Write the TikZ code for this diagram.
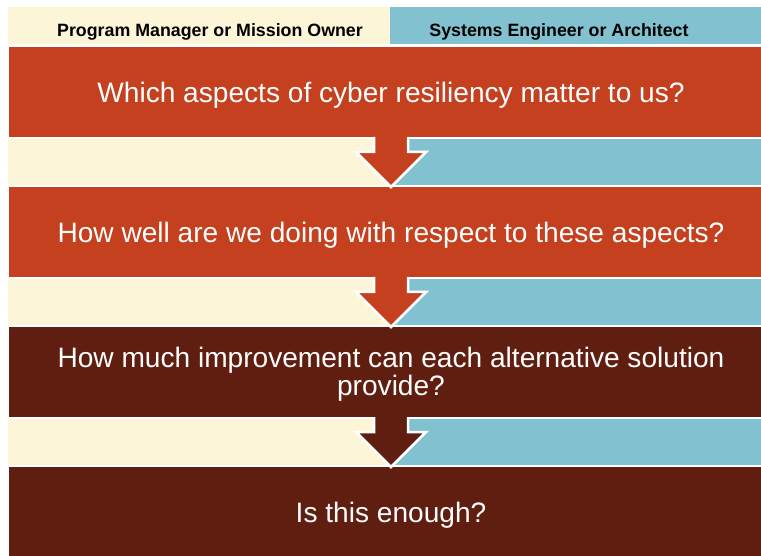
\documentclass[tikz,border=0pt]{standalone}
\usepackage{fontspec}
\setmainfont{Liberation Sans}
\usepackage{xcolor}

\definecolor{rust}{RGB}{196,64,30}
\definecolor{darkrust}{RGB}{96,30,16}
\definecolor{cream}{RGB}{253,245,216}
\definecolor{paleblue}{RGB}{130,194,208}

\tikzset{
  qbox/.style={rectangle,minimum width=752pt,minimum height=90pt,inner sep=0pt,outer sep=0pt},
  qtext/.style={text=white,font=\fontsize{28.1}{28.5}\selectfont,align=center,inner sep=0pt},
  hdrtext/.style={font=\bfseries\fontsize{17.8}{20}\selectfont,inner sep=0pt,anchor=base},
  cut/.style={draw=white,line width=2.5pt,line join=miter}
}

\begin{document}
\begin{tikzpicture}[x=1pt,y=-1pt]
        \useasboundingbox (0,0) rectangle (761,556);
        % header
        \fill[cream] (8,7) rectangle (390,44);
        \fill[paleblue] (390,7) rectangle (761,44);
        \node[hdrtext] (pm) at (210,37) {Program Manager or Mission Owner};
        \node[hdrtext] (se) at (559,37) {Systems Engineer or Architect};
        % bands
        \fill[cream] (8,139) rectangle (390,185);
        \fill[paleblue] (390,139) rectangle (761,185);
        \fill[cream] (8,279) rectangle (390,325);
        \fill[paleblue] (390,279) rectangle (761,325);
        \fill[cream] (8,419) rectangle (390,465);
        \fill[paleblue] (390,419) rectangle (761,465);
        % questions
        \node[qbox,fill=rust] (q1) at (385,92) {};
        \node[qbox,fill=rust] (q2) at (385,232) {};
        \node[qbox,fill=darkrust] (q3) at (385,372) {};
        \node[qbox,fill=darkrust] (q4) at (385,512) {};
        \node[qtext,anchor=base] (t1) at ([shift={(6pt,-11pt)}]q1.center) {Which aspects of cyber resiliency matter to us?};
        \node[qtext,anchor=base] (t2) at ([shift={(6pt,-11pt)}]q2.center) {How well are we doing with respect to these aspects?};
        \node[qtext] (t3) at ([shift={(6pt,-2pt)}]q3.center) {How much improvement can each alternative solution\\provide?};
        \node[qtext,anchor=base] (t4) at ([shift={(6pt,-10pt)}]q4.center) {Is this enough?};
        % arrows
        \filldraw[cut,fill=rust] ([xshift=-11pt]q1.south) -- ++(0,15) -- ++(-18,0) -- ([xshift=6pt]q2.north) -- ++(35,-35) -- ++(-18,0) -- ++(0,-15);
        \filldraw[cut,fill=rust] ([xshift=-11pt]q2.south) -- ++(0,15) -- ++(-18,0) -- ([xshift=6pt]q3.north) -- ++(35,-35) -- ++(-18,0) -- ++(0,-15);
        \filldraw[cut,fill=darkrust] ([xshift=-11pt]q3.south) -- ++(0,15) -- ++(-18,0) -- ([xshift=6pt]q4.north) -- ++(35,-35) -- ++(-18,0) -- ++(0,-15);
\end{tikzpicture}
\end{document}
